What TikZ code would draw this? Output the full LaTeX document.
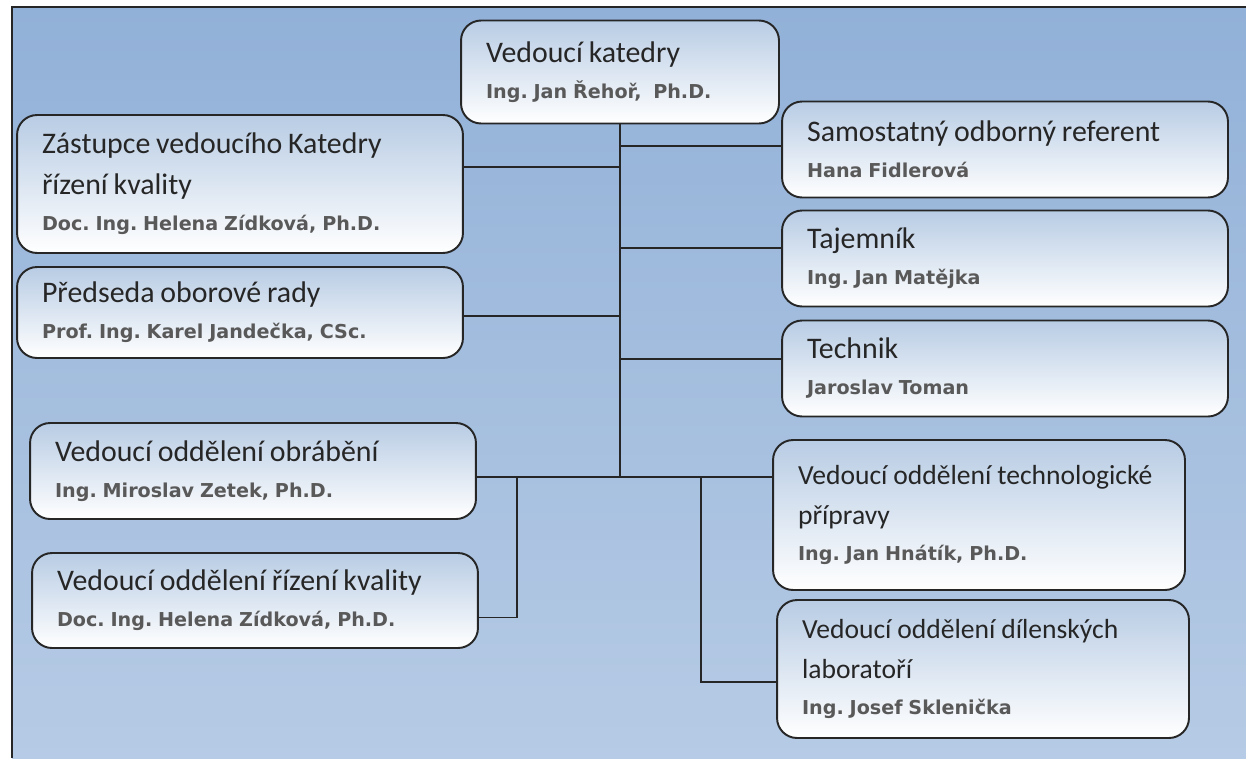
\documentclass[tikz,border=0pt]{standalone}
\usepackage{fontspec}
\setmainfont{Carlito}
\newfontfamily\namefont{DejaVu Sans}
\frenchspacing
\definecolor{bgtop}{RGB}{146,177,216}
\definecolor{bgbottom}{RGB}{182,203,229}
\definecolor{boxblue}{RGB}{184,204,228}
\definecolor{linegray}{RGB}{38,38,38}
\definecolor{namegray}{RGB}{89,89,89}
\newcommand{\funkce}[3][17]{{\fontsize{#1}{23.2}\selectfont #2\par}{\namefont\bfseries\fontsize{10.9}{20.5}\selectfont\leavevmode\color{namegray}#3\par}}

\begin{document}
\begin{tikzpicture}[x=0.02cm, y=-0.02cm]
    \tikzstyle{unit}=[rectangle, rounded corners=0.4cm, draw=linegray, line width=1.1pt, top color=boxblue, middle color=boxblue!35!white, bottom color=white, inner xsep=0.5cm, inner ysep=0pt, align=left, text=linegray, text width=7.92cm]
    \tikzstyle{link}=[draw=linegray, line width=1.1pt]

    \useasboundingbox (0,0) rectangle (1246,758);
    \shade[top color=bgtop, bottom color=bgbottom] (12,7) rectangle (1246,758);
    \draw[link] (12,758) -- (12,7) -- (1246,7);

    \node[unit, text width=5.36cm, minimum height=2.06cm] (head) at (620,72)
    {\funkce{Vedoucí katedry}{Ing. Jan Řehoř,\ \ Ph.D.}};

    \node[unit, minimum height=2.76cm] (L-1) at (240,184)
    {\funkce{Zástupce vedoucího Katedry\\řízení kvality}{Doc. Ing. Helena Zídková, Ph.D.}};
    \node[unit, minimum height=1.82cm] (L-2) at (240,312.5)
    {\funkce{Předseda oborové rady}{Prof. Ing. Karel Jandečka, CSc.}};

    \foreach \i/\y/\t/\p in {1/149.5/{Samostatný odborný referent}/{Hana Fidlerová},
                             2/258.5/{Tajemník}/{Ing. Jan Matějka},
                             3/368.5/{Technik}/{Jaroslav Toman}}
    \node[unit, minimum height=1.92cm] (R-\i) at (1005,\y) {\funkce{\t}{\p}};

    \node[unit, minimum height=1.92cm] (D-1) at (253,471)
    {\funkce{Vedoucí oddělení obrábění}{Ing. Miroslav Zetek, Ph.D.}};
    \node[unit, minimum height=1.9cm] (D-2) at (255,600.5)
    {\funkce{Vedoucí oddělení řízení kvality}{Doc. Ing. Helena Zídková, Ph.D.}};
    \node[unit, text width=7.24cm, minimum height=3cm] (D-3) at (979,515)
    {\funkce[15.7]{\mbox{Vedoucí oddělení technologické}\\přípravy}{Ing. Jan Hnátík, Ph.D.}};
    \node[unit, text width=7.24cm, minimum height=2.76cm] (D-4) at (983,669)
    {\funkce[15.7]{Vedoucí oddělení dílenských\\laboratoří}{Ing. Josef Sklenička}};

    \coordinate (J) at (620,477);
    \coordinate (J-1) at (517,477);
    \coordinate (J-2) at (701,477);
    \foreach \n/\y in {1/146,2/167,3/248,4/316,5/359}
    \coordinate (T-\n) at (620,\y);

    \draw[link] (head.south) -- (J);
    \foreach \n/\s/\t in {R-1/west/T-1, L-1/east/T-2, R-2/west/T-3, L-2/east/T-4, R-3/west/T-5}
    \draw[link] (\n.\s |- \t) -- (\t);
    \draw[link] (D-1.east |- J) -- (D-3.west |- J);
    \draw[link] (J-1) |- ([yshift=-0.34cm]D-2.east);
    \draw[link] (J-2) |- ([yshift=-0.26cm]D-4.west);
  \end{tikzpicture}
\end{document}
